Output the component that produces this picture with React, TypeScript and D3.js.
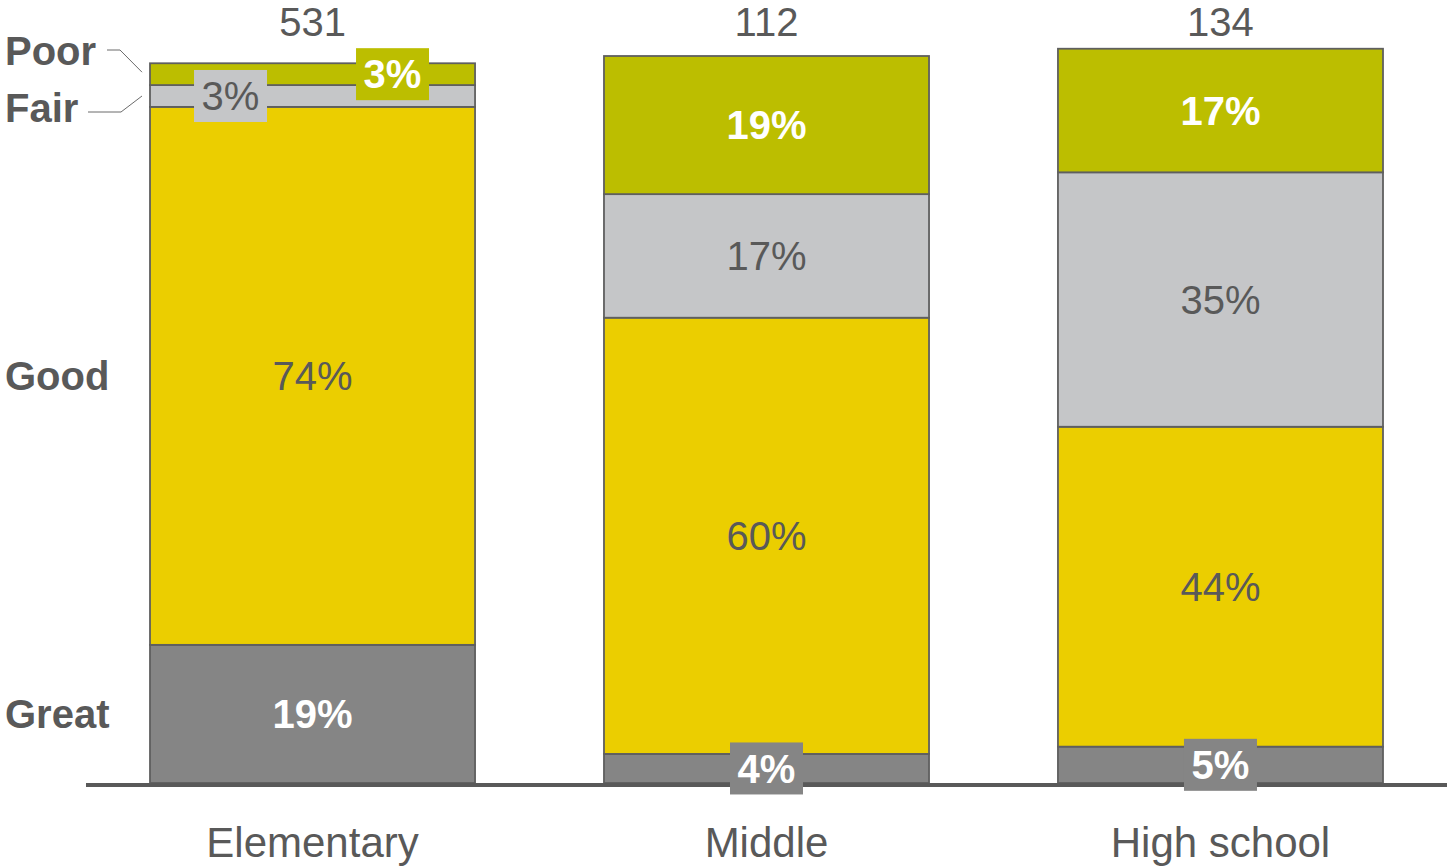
import React from "react";
import * as d3 from "d3";

const categories = ["Elementary", "Middle", "High school"];
const totals = [531, 112, 134];
const ratings = ["Great", "Good", "Fair", "Poor"]; // bottom to top
const greatValues = [19, 4, 5];
const goodValues = [74, 60, 44];
const fairValues = [3, 17, 35];
const poorValues = [3, 19, 17];

const W = 1447;
const H = 866;
const FONT = "'Liberation Sans', Arial, Helvetica, sans-serif";
const TEXT = "#595959";

const fills: Record<string, string> = {
  Great: "#858585",
  Good: "#EBCE00",
  Fair: "#C5C6C8",
  Poor: "#BCBE00",
};
const labelStyle: Record<string, { color: string; weight: string }> = {
  Great: { color: "#ffffff", weight: "bold" },
  Good: { color: TEXT, weight: "normal" },
  Fair: { color: TEXT, weight: "normal" },
  Poor: { color: "#ffffff", weight: "bold" },
};

export default function App() {
  const x = d3
    .scaleBand<string>()
    .domain(categories)
    .range([150, 1383])
    .paddingInner(0.284)
    .paddingOuter(0);
  const y = d3.scaleLinear().domain([0, 100]).range([783, 56]);

  const rows = categories.map((c, i) => ({
    category: c,
    Great: greatValues[i],
    Good: goodValues[i],
    Fair: fairValues[i],
    Poor: poorValues[i],
  }));
  const series = d3.stack<any>().keys(ratings)(rows);

  const bw = x.bandwidth();
  const SMALL = 45;

  // Legend positions anchored to the first bar's segments
  const first = series.map((s) => s[0]);
  const segCenter = (k: number) => (y(first[k][0]) + y(first[k][1])) / 2;

  return (
    <svg
      width={W}
      height={H}
      style={{ position: "absolute", left: 0, top: 0, background: "#fff" }}
      fontFamily={FONT}
    >
      {/* bars */}
      {series.map((s) => (
        <g key={s.key}>
          {s.map((d, i) => (
            <rect
              key={i}
              x={x(categories[i])}
              y={y(d[1])}
              width={bw}
              height={y(d[0]) - y(d[1])}
              fill={fills[s.key]}
              stroke="#5f5f5f"
              strokeWidth={1.8}
            />
          ))}
        </g>
      ))}

      {/* baseline */}
      <line x1={86} x2={W} y1={785} y2={785} stroke={TEXT} strokeWidth={4} />

      {/* segment labels */}
      {categories.map((c, i) => {
        const segs = series.map((s) => ({
          key: s.key,
          v: s[i][1] - s[i][0],
          y0: y(s[i][0]),
          y1: y(s[i][1]),
        }));
        const smalls = segs.filter((sg) => sg.y0 - sg.y1 < SMALL);
        const cx = (x(c) as number) + bw / 2;
        return (
          <g key={c}>
            {segs.map((sg) => {
              const cy = (sg.y0 + sg.y1) / 2;
              const small = sg.y0 - sg.y1 < SMALL;
              let dx = 0;
              if (small && smalls.length > 1) {
                const idx = smalls.indexOf(sg);
                dx = idx === 0 ? -82 : 80;
              }
              const st = labelStyle[sg.key];
              return (
                <g key={sg.key}>
                  {small && (
                    <rect
                      x={cx + dx - 36.5}
                      y={cy - 26}
                      width={73}
                      height={52}
                      fill={fills[sg.key]}
                    />
                  )}
                  <text
                    x={cx + dx}
                    y={cy + 14.3}
                    textAnchor="middle"
                    fontSize={40}
                    fontWeight={st.weight}
                    fill={st.color}
                  >
                    {`${sg.v}%`}
                  </text>
                </g>
              );
            })}
            <text
              x={cx}
              y={36}
              textAnchor="middle"
              fontSize={40}
              fill={TEXT}
            >
              {totals[i]}
            </text>
            <text
              x={cx}
              y={857}
              textAnchor="middle"
              fontSize={42}
              fill={TEXT}
            >
              {c}
            </text>
          </g>
        );
      })}

      {/* legend labels on the left */}
      <text x={5} y={segCenter(0) + 14.3} fontSize={40} fontWeight="bold" fill={TEXT}>
        Great
      </text>
      <text x={5} y={segCenter(1) + 14.3} fontSize={40} fontWeight="bold" fill={TEXT}>
        Good
      </text>
      <text x={5} y={122} fontSize={40} fontWeight="bold" fill={TEXT}>
        Fair
      </text>
      <text x={5} y={65} fontSize={40} fontWeight="bold" fill={TEXT}>
        Poor
      </text>
      <polyline
        points={`107,50 120,50 142,${segCenter(3) - 2}`}
        fill="none"
        stroke="#6b6b6b"
        strokeWidth={1}
      />
      <polyline
        points={`88,112 121,112 142,${segCenter(2)}`}
        fill="none"
        stroke="#6b6b6b"
        strokeWidth={1}
      />
    </svg>
  );
}
